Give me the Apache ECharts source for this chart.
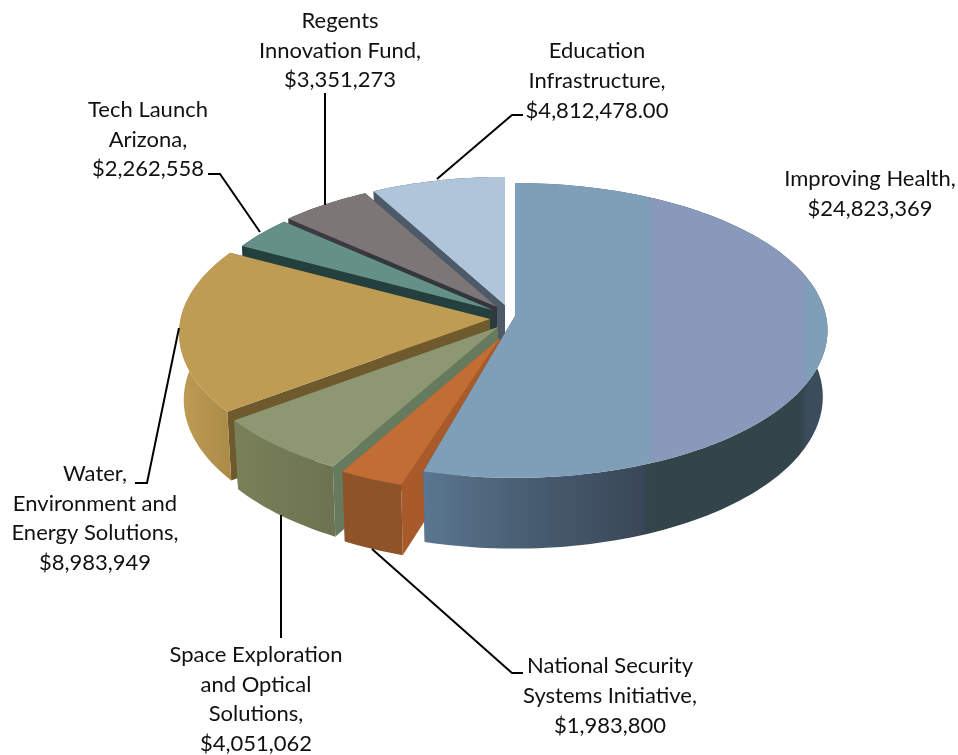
<!DOCTYPE html>
<html><head><meta charset="utf-8">
<style>html,body{margin:0;padding:0;background:#fff}#c{width:958px;height:755px}</style>
<script src="https://cdn.jsdelivr.net/npm/echarts@6/dist/echarts.min.js"></script>
</head><body><div id="c"></div>
<script>
// ---- data ----
var categories = ['Improving Health','National Security Systems Initiative','Space Exploration and Optical Solutions','Water, Environment and Energy Solutions','Tech Launch Arizona','Regents Innovation Fund','Education Infrastructure'];
var values = [24823369,1983800,4051062,8983949,2262558,3351273,4812478];
var labelLines = [
 ['Improving Health,','$24,823,369'],
 ['National Security','Systems Initiative,','$1,983,800'],
 ['Space Exploration','and Optical','Solutions,','$4,051,062'],
 ['Water,','Environment and','Energy Solutions,','$8,983,949'],
 ['Tech Launch','Arizona,','$2,262,558'],
 ['Regents','Innovation Fund,','$3,351,273'],
 ['Education','Infrastructure,','$4,812,478.00']
];
// ---- view / layout ----
var RX=311, RY=146, PERSP=0.098, DEPTH=66, BOTTOM_SCALE=0.985;
// exploded apex and relative radius of each slice
var apexes=[[515,316],[500,338],[498,327],[490,319],[493,310],[497,307],[505,305]];
var radiusScale=[1,0.96,1,0.995,0.96,0.96,0.96];
// how the 3D view bends pie angle into on-screen angle
var viewKnots=[[0,0],[177.74,195.5],[177.8,197.5],[191.98,209],[220.99,233],[285.33,298.5],[301.53,312],[325.53,331.5],[360,360]];
var EPS=0.05;
function hg(x0,x1,stops){return {type:'linear',global:true,x:x0,y:0,x2:x1,y2:0,colorStops:stops.map(function(s){return {offset:(s[0]-x0)/(x1-x0),color:s[1]};})};}
var topFill=[
 hg(400,830,[[400,'#7f9fb8'],[650,'#7f9fb8'],[650.5,'#8899bb'],[806,'#8899bb'],[806.5,'#7f9fb8'],[830,'#7f9fb8']]),
 '#c26d36','#8d9873','#bf9c53','#659088','#7d7676','#b0c4da'];
var wallFill=[
 hg(424,826,[[424,'#5a7690'],[520,'#4a5f73'],[640,'#3a4858'],[650,'#33444a'],[800,'#33444a'],[808,'#3b4d5c'],[826,'#3b4d5c']]),
 '#8f5329',hg(233,340,[[233,'#7a8059'],[340,'#6c7250']]),hg(180,235,[[180,'#bd9c55'],[235,'#a98a46']]),'#24403e','#3c3a40','#4d5a6a'];
var cutFill=['#4a5f73','#a85a2a','#667a5e','#6e5a2c','#24403e','#33363c','#4d5a6a'];
var leaders=[
 null,
 [[372,549],[512,673],[523,673]],
 [[281,515],[281,638]],
 [[179,328],[147,483],[135,483]],
 [[260,232],[220,174],[208,174]],
 [[325,205],[325,93]],
 [[437,179],[512,115],[523,115]]
];
var labelPos=[[870,194],[610,696],[256,699.5],[95,518.5],[148,139.5],[340,50.5],[597,81]];

var total=values.reduce(function(a,b){return a+b;},0);
function bend(d){
  d=Math.max(0,Math.min(360,d));
  for(var i=1;i<viewKnots.length;i++){
    if(d<=viewKnots[i][0]){var a=viewKnots[i-1],b=viewKnots[i];return a[1]+(d-a[0])/(b[0]-a[0])*(b[1]-a[1]);}
  }
  return 360;
}
function project(apex,deg,r,bottom){
  var t=deg*Math.PI/180,X=Math.sin(t)*r,Y=-Math.cos(t)*r,w=1-PERSP*Y;
  var s=bottom?BOTTOM_SCALE:1;
  return [apex[0]+s*RX*X/w, apex[1]+s*RY*Y/w+(bottom?DEPTH/w:0)];
}
var starts=[],acc=0;
values.forEach(function(v){starts.push(acc);acc+=v;});
var order=values.map(function(v,i){return i;}).reverse();

function renderItem(params,api){
  var i=api.value(0), v=api.value(1);
  var a0=bend(starts[i]/total*360+EPS), a1=bend((starts[i]+v)/total*360-EPS);
  if(i===0)a0=0; if(i===values.length-1)a1=360;
  var apex=apexes[i], r=radiusScale[i], topArc=[], botArc=[], n=Math.max(8,Math.ceil((a1-a0)/1.5));
  for(var k=0;k<=n;k++){
    var a=a0+(a1-a0)*k/n;
    topArc.push(project(apex,a,r,false));
    botArc.push(project(apex,a,r,true));
  }
  var apexB=[apex[0],apex[1]+DEPTH];
  function poly(points,fill){return {type:'polygon',shape:{points:points},style:{fill:fill,stroke:null}};}
  return {type:'group',children:[
    poly([apex,topArc[0],botArc[0],apexB],cutFill[i]),
    poly([apex,topArc[n],botArc[n],apexB],cutFill[i]),
    poly(topArc.concat(botArc.slice().reverse()),wallFill[i]),
    poly([apex].concat(topArc),topFill[i])
  ]};
}

var graphics=[];
leaders.forEach(function(pts){
  if(pts) graphics.push({type:'polyline',z:10,silent:true,shape:{points:pts},style:{stroke:'#000',lineWidth:2,fill:null}});
});
labelLines.forEach(function(lines,i){
  graphics.push({type:'text',z:11,x:labelPos[i][0],y:labelPos[i][1],style:{
    text:lines.join('\n'),fill:'#111',font:'22px Lato',lineHeight:29.6,align:'center',verticalAlign:'middle'}});
});

var chart=echarts.init(document.getElementById('c'),null,{renderer:'canvas'});
chart.setOption({
  animation:false,
  backgroundColor:'#fff',
  series:[{type:'custom',coordinateSystem:'none',renderItem:renderItem,silent:true,
    data:order.map(function(i){return {name:categories[i],value:[i,values[i]]};})}],
  graphic:graphics
});
</script></body></html>
